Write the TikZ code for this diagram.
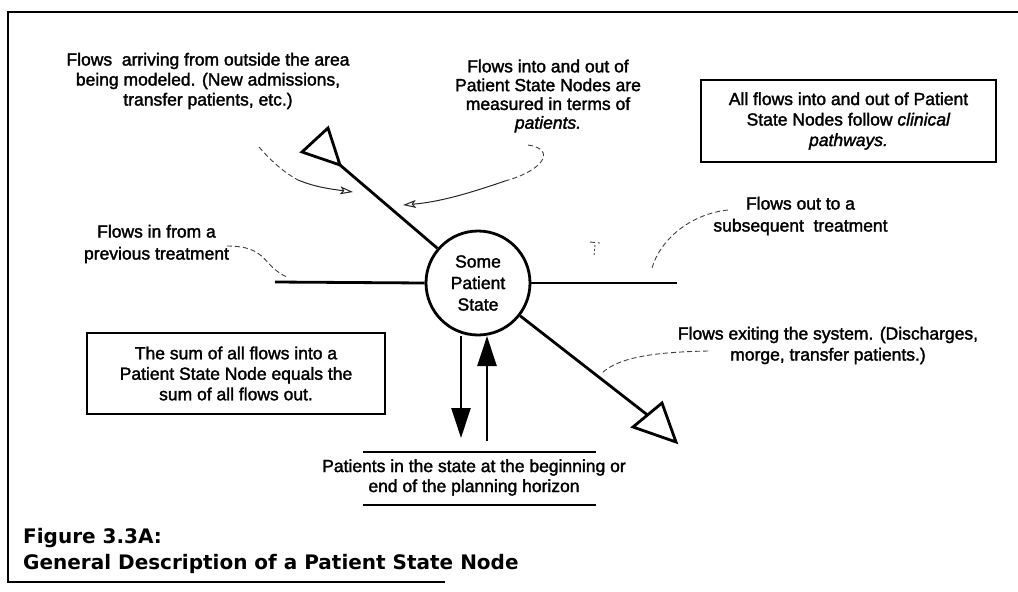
\documentclass[tikz,border=0pt]{standalone}
\usepackage{fontspec}
\setmainfont{Liberation Sans}[FakeBold=1.8]
\newfontfamily\capfont{DejaVu Sans}
\usetikzlibrary{arrows.meta}

\tikzset{
  frame/.style={line width=2.2pt},
  spoke/.style={line width=2.8pt},
  txt/.style={align=center, inner sep=0pt, font=\fontsize{17.5}{20}\selectfont},
  notebox/.style={draw, line width=2.2pt, rectangle, inner sep=0pt, align=center,
    font=\fontsize{17.5}{20.5}\selectfont},
  statenode/.style={circle, draw, line width=2.8pt, minimum size=104pt, inner sep=0pt,
    align=center, font=\fontsize{17.5}{21.5}\selectfont},
  solidhead/.style={line width=2.6pt, -{Triangle[length=30pt,width=19pt]}},
  callout/.style={line width=0.9pt, black!75, dash pattern=on 5pt off 3pt},
  calltip/.style={line width=1pt, black!85, -{Stealth[open,length=13pt,width=8pt,inset=3pt]}},
  captext/.style={anchor=base west, inner sep=0pt, font=\capfont\bfseries\fontsize{20}{26}\selectfont},
}

\begin{document}
\begin{tikzpicture}[x=1pt,y=-1pt]
\useasboundingbox (0,0) rectangle (1018,592);

% outer frame (open on the right)
\coordinate (fTR) at (1018,12);
\coordinate (fTL) at (8,12);
\coordinate (fBL) at (8,582);
\coordinate (fBR) at (445,582);
\draw[frame] (fTR) -- (fTL) -- (fBL) -- (fBR);

% central patient state node
\node[statenode] (ps) at (478,283) {Some\\Patient\\State};

% horizontal flows
\coordinate (inEnd) at (275,282);
\coordinate (outEnd) at (677,283);
\draw[spoke] (inEnd) -- (ps.west);
\draw[spoke] (ps.east) -- (outEnd);

% arrivals from outside: hollow head pointing at the state
\coordinate (ulTip) at (340,165);
\coordinate (ulB1) at (328,128);
\coordinate (ulB2) at (302,152);
\draw[spoke] (ps) -- (ulTip);
\draw[spoke, line join=miter] (ulTip) -- (ulB1) -- (ulB2) -- cycle;

% exits from the system: hollow head pointing away
\coordinate (lrBase) at (647.5,415);
\coordinate (lrTip) at (676,442);
\coordinate (lrB1) at (662,403);
\coordinate (lrB2) at (633,427);
\draw[spoke] (ps) -- (lrBase);
\draw[spoke, line join=miter] (lrTip) -- (lrB1) -- (lrB2) -- cycle;

% stock at the start or end of the horizon
\node[txt] (ph) at (474,477.5) {Patients in the state at the beginning or\\end of the planning horizon};
\coordinate (phTL) at (363,452);
\coordinate (phTR) at (596,452);
\coordinate (phBL) at (363,505);
\coordinate (phBR) at (596,505);
\draw[frame] (phTL) -- (phTR);
\draw[frame] (phBL) -- (phBR);

\coordinate (downTop) at (461,336);
\coordinate (downBot) at (461,438);
\coordinate (upBot) at (487,441);
\coordinate (upTop) at (487,336);
\draw[solidhead] (downTop) -- (downBot);
\draw[solidhead] (upBot) -- (upTop);

% text notes
\node[txt] (outside) at (208,81) {Flows\ \ arriving from outside the area\\being modeled. (New admissions,\\transfer patients, etc.)};
\node[txt, font=\fontsize{17.5}{18.8}\selectfont] (units) at (548,96) {Flows into and out of\\Patient State Nodes are\\measured in terms of\\\textit{patients.}};
\node[notebox, minimum width=295pt, minimum height=82pt] (pathbox) at (848.5,121)
  {All flows into and out of Patient\\State Nodes follow \textit{clinical}\\\textit{pathways.}};
\node[txt, font=\fontsize{17.5}{22}\selectfont] (prev) at (156.5,244) {Flows in from a\\previous treatment};
\node[txt, font=\fontsize{17.5}{22}\selectfont] (next) at (800.5,216) {Flows out to a\\subsequent\ \ treatment};
\node[notebox, minimum width=298pt, minimum height=81pt] (sumbox) at (236,373.5)
  {The sum of all flows into a\\Patient State Node equals the\\sum of all flows out.};
\node[txt, font=\fontsize{17.5}{21}\selectfont] (exits) at (828,345.5) {Flows exiting the system. (Discharges,\\morge, transfer patients.)};

% faint hand-drawn pointers
\coordinate (c1a) at (259,147);
\coordinate (c1b) at (298,180);
\coordinate (c1t) at (353,192);
\draw[callout] (c1a) .. controls (272,162) and (285,173) .. (c1b);
\draw[calltip] (c1b) .. controls (315,187) and (330,189) .. (c1t);

\coordinate (c2a) at (528,145);
\coordinate (c2b) at (505,181);
\coordinate (c2t) at (403,205);
\draw[callout] (c2a) .. controls (556,149) and (545,170) .. (c2b);
\draw[calltip] (c2b) .. controls (470,193) and (440,202) .. (c2t);

\coordinate (c3a) at (227,246);
\coordinate (c3b) at (287,277);
\draw[callout] (c3a) .. controls (268,246) and (262,266) .. (c3b);

\coordinate (c4a) at (728,210);
\coordinate (c4b) at (652,268);
\draw[callout] (c4a) .. controls (690,214) and (660,240) .. (c4b);
\coordinate (m1a) at (590,242);
\coordinate (m1b) at (600,243);
\coordinate (m1c) at (595,245);
\coordinate (m1d) at (594,256);
\draw[callout] (m1a) -- (m1b);
\draw[callout, dash pattern=on 2pt off 2pt] (m1c) -- (m1d);

\coordinate (c5a) at (708,351);
\coordinate (c5b) at (602,373);
\draw[callout] (c5a) .. controls (660,352) and (620,356) .. (c5b);

% caption
\node[captext] (figno) at (23,543) {Figure 3.3A:};
\node[captext] (figtitle) at (23,569) {General Description of a Patient State Node};
\end{tikzpicture}
\end{document}
